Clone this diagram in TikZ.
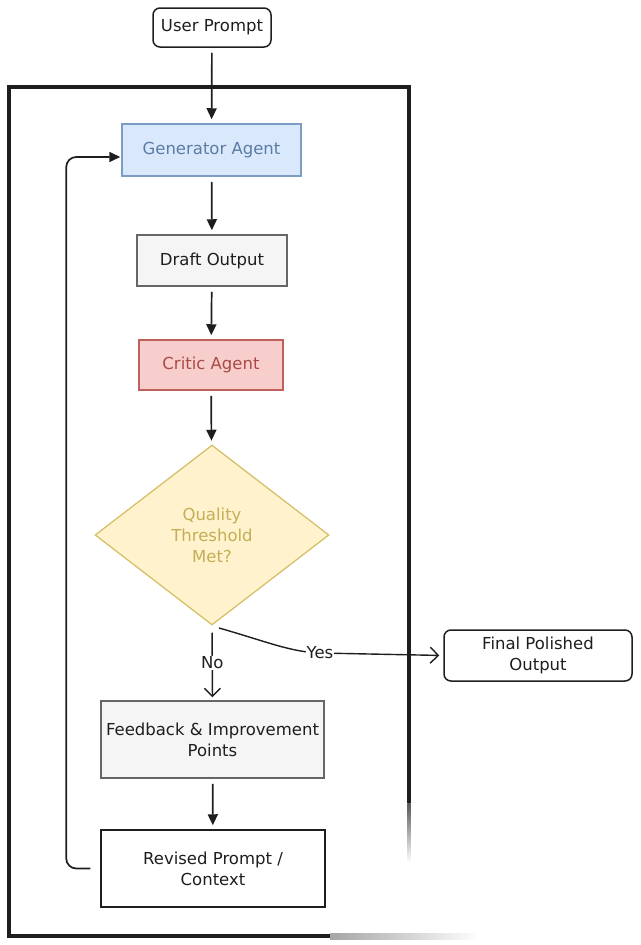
\documentclass[tikz,border=0pt]{standalone}
\usepackage{fontspec}
\setmainfont{DejaVu Sans}
\usetikzlibrary{arrows.meta,shapes.geometric}
\definecolor{genfill}{HTML}{DAE8FC}
\definecolor{gendraw}{HTML}{7C9CC4}
\definecolor{gentext}{HTML}{5A7DA6}
\definecolor{grayfill}{HTML}{F5F5F5}
\definecolor{graydraw}{HTML}{666666}
\definecolor{critfill}{HTML}{F8CECC}
\definecolor{critdraw}{HTML}{C0605C}
\definecolor{crittext}{HTML}{A84A46}
\definecolor{decfill}{HTML}{FFF2CC}
\definecolor{decdraw}{HTML}{D6C06A}
\definecolor{dectext}{HTML}{C4AE56}
\definecolor{ink}{HTML}{1E1E1E}
\tikzset{
  txt/.style={font=\fontsize{16.5}{21}\selectfont, align=center, text=ink},
  box/.style={txt, draw=ink, line width=1.5pt, inner sep=0pt},
  rbox/.style={box, rounded corners=7pt},
  flow/.style={draw=ink, line width=1.7pt, -{Triangle[length=11pt,width=10pt]}, shorten <=5pt, shorten >=4pt},
  openflow/.style={draw=ink, line width=1.4pt, -{Straight Barb[length=8pt,width=16pt,line width=1.4pt]}},
  lbl/.style={txt, fill=white, inner sep=1pt}
}
\begin{document}
\begin{tikzpicture}[x=1pt,y=-1pt]
\useasboundingbox (0,0) rectangle (640,945);
% frame
\draw[ink, line width=3.2pt, line join=miter] (409,803) -- (409,87) -- (9,87) -- (9,936) -- (330,936);
\shade[top color=ink!75, bottom color=white] (407.4,803) rectangle (410.6,862);
\shade[left color=ink!40, right color=white] (330,933) rectangle (480,939);

% nodes
\node[rbox, minimum width=118pt, minimum height=39pt] (user) at (212,27.5) {User Prompt};
\node[box, fill=genfill, draw=gendraw, text=gentext, minimum width=179pt, minimum height=52pt] (gen) at (211.5,150) {Generator Agent};
\node[box, fill=grayfill, draw=graydraw, minimum width=150pt, minimum height=51pt] (draft) at (212,260.5) {Draft Output};
\node[box, fill=critfill, draw=critdraw, text=crittext, minimum width=144pt, minimum height=50pt] (crit) at (211,365) {Critic Agent};
\node[txt, diamond, draw=decdraw, fill=decfill, text=dectext, line width=1.3pt, inner sep=0pt, minimum width=234pt, minimum height=180pt] (dec) at (212,535) {Quality\\Threshold\\Met?};
\node[rbox, minimum width=188pt, minimum height=51pt] (fin) at (538,655.5) {Final Polished\\Output};
\node[box, fill=grayfill, draw=graydraw, minimum width=223pt, minimum height=77pt] (fb) at (212.5,739.5) {Feedback \& Improvement\\Points};
\node[box, minimum width=224pt, minimum height=77pt] (rev) at (213,868.5) {Revised Prompt /\\Context};

% connectors
\draw[flow] (user) -- (gen);
\draw[flow] (gen) -- (draft);
\draw[flow] (draft) -- (crit);
\draw[flow] (crit) -- (dec);
\draw[flow] (fb) -- (rev);
\draw[flow, shorten <=10pt, shorten >=1pt, rounded corners=10pt] (rev.west) -- ++(-34,0) |- ([yshift=-7pt]gen.west);

\coordinate (ys) at (219,628);
\coordinate (ym) at (320,653);
\draw[openflow, shorten >=4pt] (ys) .. controls (265,641) and (290,652) .. (ym) -- (fin.west);
\node[lbl] (yes) at (ym) {Yes};
\draw[openflow, shorten <=7pt, shorten >=3pt] (dec.south) -- (fb.north)
  node[lbl, pos=0.5] {No};
\end{tikzpicture}
\end{document}
